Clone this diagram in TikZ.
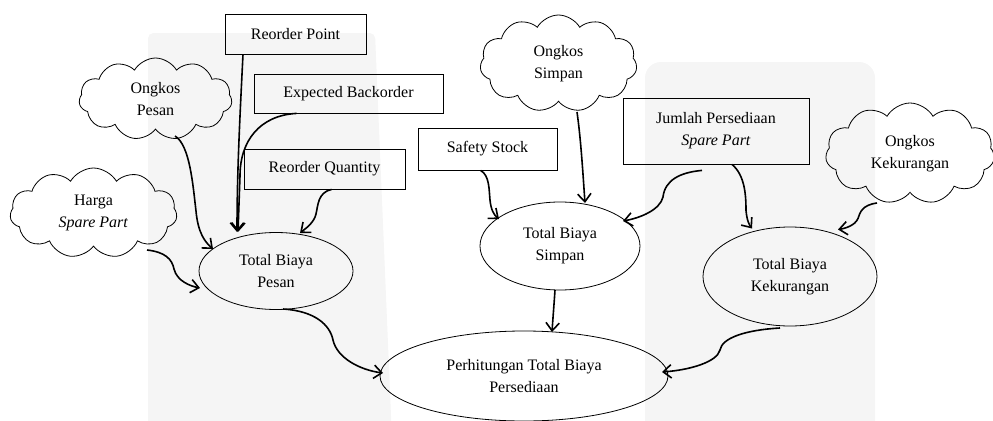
\documentclass[tikz,border=0pt]{standalone}
\usepackage{fontspec}
\setmainfont{Liberation Serif}
\usetikzlibrary{shapes.symbols,shapes.geometric,arrows.meta,calc}
\definecolor{wm}{RGB}{245,245,245}
\begin{document}
\begin{tikzpicture}[x=0.75pt,y=-0.75pt,
  every node/.style={font=\fontsize{12}{16.5}\selectfont, align=center, inner sep=0pt},
  box/.style={draw, line width=0.6pt, rectangle},
  puff/.style={draw, line width=0.6pt, cloud, cloud puffs=11, cloud puff arc=120, cloud ignores aspect},
  oval/.style={draw, line width=0.6pt, ellipse},
  link/.style={line width=1.2pt, -{Straight Barb[length=6pt,width=10pt]}}]
\useasboundingbox (0,0) rectangle (993,421);
% faint watermark
\fill[wm, rounded corners=4pt] (148,440) -- (148,33) -- (375,33) -- (392,440) -- cycle;
\fill[wm, rounded corners=12pt] (645,440) -- (645,62) -- (875,62) -- (875,440) -- cycle;

% boxes
\node[box, minimum width=105.75pt, minimum height=30pt] (rp) at (295.5,34) {Reorder Point};
\node[box, minimum width=141.75pt, minimum height=29.25pt] (eb) at (348.5,93.5) {Expected Backorder};
\node[box, minimum width=120.75pt, minimum height=30pt] (rq) at (324.5,169) {Reorder Quantity};
\node[box, minimum width=104.25pt, minimum height=31.5pt] (ss) at (487.5,149) {Safety Stock};
\node[box, minimum width=139.5pt, minimum height=49.5pt] (jp) at (716,131) {Jumlah Persediaan\\\textit{Spare Part}};

% clouds
\node[puff, minimum width=114.75pt, minimum height=61.5pt] (cp) at (155.5,99) {Ongkos\\Pesan};
\node[puff, minimum width=125.25pt, minimum height=67.5pt] (ch) at (93.5,213) {Harga\\\textit{Spare Part}};
\node[puff, minimum width=117.75pt, minimum height=72.75pt] (cs) at (558.5,63.5) {Ongkos\\Simpan};
\node[puff, minimum width=126.75pt, minimum height=75.75pt] (ck) at (910,153.5) {Ongkos\\Kekurangan};

% ellipses
\node[oval, minimum width=115.5pt, minimum height=57.75pt] (ep) at (276,271) {Total Biaya\\Pesan};
\node[oval, minimum width=120pt, minimum height=66pt] (es) at (560,246) {Total Biaya\\Simpan};
\node[oval, minimum width=130.5pt, minimum height=74.25pt] (ek) at (790,276.5) {Total Biaya\\Kekurangan};
\node[oval, minimum width=216pt, minimum height=67.5pt] (et) at (524,376) {Perhitungan Total Biaya\\Persediaan};

% connectors to Total Biaya Pesan
\draw[link] ($(cp.center)+(19.5,37)$) .. controls +(15,9) and +(-3,-25) .. ($(ep.center)+(-80,-60)$)
  .. controls +(2,22) and +(-8,-7) .. ($(ep.center)+(-63,-22)$);
\draw[link] ($(rp.south)+(-52.5,0)$) .. controls +(-3,60) and +(0,-60) .. ($(ep.center)+(-39,-39)$);
\draw[link] ($(eb.south west)+(43,0)$) .. controls +(-37,2) and +(0,-35) .. ($(ep.center)+(-36,-95)$)
  -- ($(ep.center)+(-38,-39)$);
\draw[link] ($(rq.south west)+(88,0)$) .. controls +(-14,3) and +(2,-8) .. ($(ep.center)+(40,-57)$)
  .. controls +(-2,9) and +(5,-4) .. ($(ep.center)+(24,-38)$);
\draw[link] ($(ch.center)+(53.5,37)$) .. controls +(18,2) and +(-2,-10) .. ($(ep.center)+(-102,-2)$)
  .. controls +(3,12) and +(-10,-2) .. ($(ep.center)+(-76,17)$);
% Pesan -> Perhitungan
\draw[link] ($(ep.center)+(7,38)$) .. controls +(32,2) and +(-3,-15) .. ($(et.center)+(-191,-36)$)
  .. controls +(4,18) and +(-23,-3) .. ($(et.center)+(-141,-3)$);

% connectors to Total Biaya Simpan
\draw[link] ($(ss.south west)+(63,0)$) .. controls +(9,5) and +(-1,-10) .. ($(es.center)+(-70,-46)$)
  .. controls +(1,10) and +(-5,-4) .. ($(es.center)+(-61,-27)$);
\draw[link] ($(cs.center)+(18.5,48.5)$) .. controls +(4,28) and +(-2,-28) .. ($(es.center)+(25,-43)$);
\draw[link] ($(jp.south)+(-14,6)$) .. controls +(-22,2) and +(2,-17) .. ($(es.center)+(103,-49)$)
  .. controls +(-3,13) and +(17,-3) .. ($(es.center)+(63,-25)$);
% Simpan -> Perhitungan
\draw[link] ($(es.center)+(-5,44)$) .. controls +(-1,15) and +(1,-15) .. ($(et.center)+(28,-44)$);

% connectors to Total Biaya Kekurangan
\draw[link] ($(jp.south)+(16,0)$) .. controls +(13,11) and +(0,-15) .. ($(ek.center)+(-44,-66)$)
  .. controls +(1,10) and +(-3,-4) .. ($(ek.center)+(-38,-48)$);
\draw[link] ($(ck.center)+(-33,49.5)$) .. controls +(-15,2) and +(2,-6) .. ($(ek.center)+(68,-58)$)
  .. controls +(-3,7) and +(7,-1) .. ($(ek.center)+(48,-47)$);
% Kekurangan -> Perhitungan
\draw[link] ($(ek.center)+(-10,51.5)$) .. controls +(-35,2) and +(2,-12) .. ($(et.center)+(196,-26)$)
  .. controls +(-3,12) and +(28,-2) .. ($(et.center)+(138,-4)$);
\end{tikzpicture}
\end{document}
